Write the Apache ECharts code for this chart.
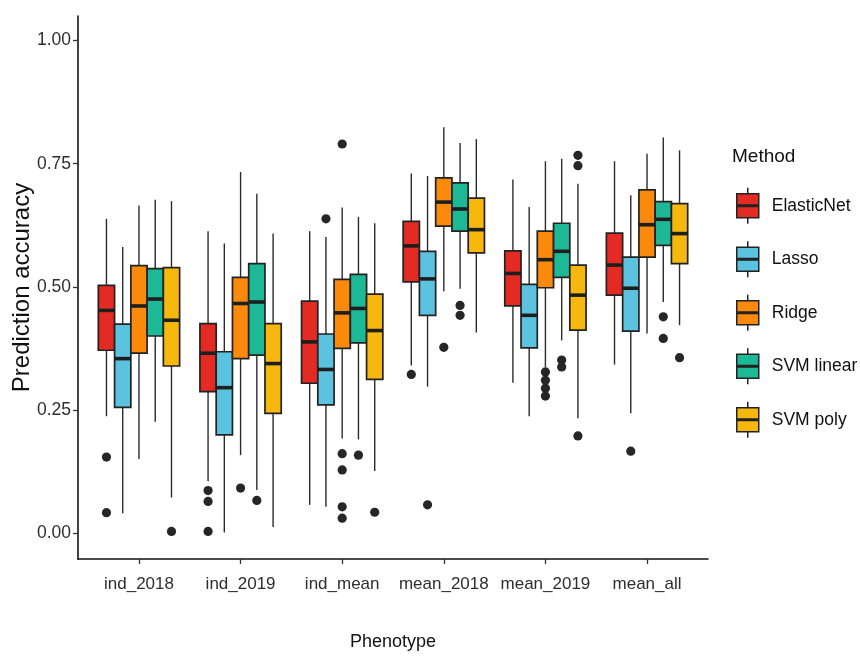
<!DOCTYPE html>
<html>
<head>
<meta charset="utf-8">
<script src="https://cdn.jsdelivr.net/npm/echarts@6/dist/echarts.min.js"></script>
<style>
  html, body { margin: 0; padding: 0; background: #fff; }
  #chart { width: 860px; height: 662px; }
</style>
</head>
<body>
<div id="chart"></div>
<script>
var phenotypes = ['ind_2018', 'ind_2019', 'ind_mean', 'mean_2018', 'mean_2019', 'mean_all'];
var methods = ['ElasticNet', 'Lasso', 'Ridge', 'SVM linear', 'SVM poly'];
var yTicks = [0, 0.25, 0.5, 0.75, 1];

// [min, q1, median, q3, max] per phenotype
var elasticNet = [
    [0.237, 0.371, 0.452, 0.503, 0.638],
    [0.105, 0.287, 0.365, 0.425, 0.613],
    [0.057, 0.304, 0.388, 0.471, 0.613],
    [0.340, 0.510, 0.583, 0.633, 0.730],
    [0.305, 0.461, 0.527, 0.573, 0.718],
    [0.342, 0.483, 0.544, 0.609, 0.755]
];
var lasso = [
    [0.040, 0.255, 0.354, 0.424, 0.581],
    [0.001, 0.199, 0.295, 0.368, 0.588],
    [0.053, 0.260, 0.332, 0.404, 0.601],
    [0.297, 0.442, 0.516, 0.572, 0.725],
    [0.237, 0.376, 0.442, 0.505, 0.662],
    [0.243, 0.410, 0.497, 0.560, 0.686]
];
var ridge = [
    [0.150, 0.365, 0.461, 0.543, 0.665],
    [0.158, 0.354, 0.466, 0.519, 0.733],
    [0.192, 0.375, 0.447, 0.515, 0.661],
    [0.491, 0.623, 0.672, 0.721, 0.824],
    [0.337, 0.498, 0.555, 0.613, 0.755],
    [0.405, 0.560, 0.626, 0.697, 0.770]
];
var svmLinear = [
    [0.226, 0.400, 0.475, 0.537, 0.677],
    [0.087, 0.361, 0.469, 0.547, 0.689],
    [0.190, 0.386, 0.456, 0.525, 0.642],
    [0.496, 0.613, 0.658, 0.711, 0.792],
    [0.391, 0.519, 0.572, 0.629, 0.760],
    [0.469, 0.584, 0.637, 0.673, 0.803]
];
var svmPoly = [
    [0.072, 0.339, 0.432, 0.539, 0.674],
    [0.012, 0.243, 0.344, 0.425, 0.608],
    [0.126, 0.312, 0.411, 0.485, 0.629],
    [0.407, 0.569, 0.616, 0.680, 0.800],
    [0.233, 0.412, 0.483, 0.544, 0.709],
    [0.422, 0.547, 0.608, 0.669, 0.777]
];

// outliers: [phenotype index, value]
var elasticNetOut = [[0, 0.154], [0, 0.041], [1, 0.086], [1, 0.064], [1, 0.003], [3, 0.322]];
var lassoOut = [[2, 0.638], [3, 0.057], [5, 0.166]];
var ridgeOut = [[1, 0.091], [2, 0.790], [2, 0.161], [2, 0.128], [2, 0.053], [2, 0.030],
    [3, 0.377], [4, 0.327], [4, 0.310], [4, 0.294], [4, 0.278]];
var svmLinearOut = [[1, 0.066], [2, 0.158], [3, 0.462], [3, 0.442], [4, 0.351], [4, 0.337], [5, 0.439], [5, 0.395]];
var svmPolyOut = [[0, 0.003], [2, 0.042], [4, 0.767], [4, 0.746], [4, 0.197], [5, 0.356]];

var boxData = [elasticNet, lasso, ridge, svmLinear, svmPoly];
var outData = [elasticNetOut, lassoOut, ridgeOut, svmLinearOut, svmPolyOut];
var colors = ['#E32B24', '#5BC2E0', '#FA890C', '#1DB896', '#F7B80E'];

var FONT = "'Liberation Sans', Arial, sans-serif";
var STEP = 0.16;   // dodge width per method (category units)
var BOX_W = 0.16;

function boxRenderer(k) {
    var off = (k - 2) * STEP;
    return function (params, api) {
        var x = api.value(0) + off;
        var lo = api.coord([x, api.value(1)]);
        var q1 = api.coord([x, api.value(2)]);
        var md = api.coord([x, api.value(3)]);
        var q3 = api.coord([x, api.value(4)]);
        var hi = api.coord([x, api.value(5)]);
        var half = api.size([BOX_W, 0])[0] / 2;
        return {
            type: 'group',
            children: [
                {type: 'line', shape: {x1: lo[0], y1: lo[1], x2: q1[0], y2: q1[1]}, style: {stroke: '#2b2b2b', lineWidth: 1.4}},
                {type: 'line', shape: {x1: q3[0], y1: q3[1], x2: hi[0], y2: hi[1]}, style: {stroke: '#2b2b2b', lineWidth: 1.4}},
                {type: 'rect', shape: {x: q3[0] - half, y: q3[1], width: half * 2, height: q1[1] - q3[1]},
                    style: {fill: colors[k], stroke: '#222', lineWidth: 1.7}},
                {type: 'line', shape: {x1: md[0] - half, y1: md[1], x2: md[0] + half, y2: md[1]}, style: {stroke: '#1e1e1e', lineWidth: 3.6}}
            ]
        };
    };
}

function outRenderer(k) {
    var off = (k - 2) * STEP;
    return function (params, api) {
        var p = api.coord([api.value(0) + off, api.value(1)]);
        return {type: 'circle', shape: {cx: p[0], cy: p[1], r: 4.6}, style: {fill: '#262626'}};
    };
}

var series = [];
methods.forEach(function (m, k) {
    series.push({
        name: m,
        type: 'custom',
        itemStyle: {color: colors[k]},
        renderItem: boxRenderer(k),
        encode: {x: 0, y: [1, 2, 3, 4, 5]},
        data: boxData[k].map(function (b, i) { return [i].concat(b); }),
        z: 2
    });
});
methods.forEach(function (m, k) {
    series.push({
        name: m,
        type: 'custom',
        itemStyle: {color: colors[k]},
        renderItem: outRenderer(k),
        encode: {x: 0, y: 1},
        data: outData[k],
        z: 3
    });
});

var legendIcon = 'path://M11,0L11,6M0,6H22V17.25H0ZM0,18.75H22V30H0ZM11,30L11,36';

var myChart = echarts.init(document.getElementById('chart'));
var option = {
    animation: false,
    backgroundColor: '#fff',
    title: {
        text: 'Method',
        left: 727,
        top: 142,
        textStyle: {fontFamily: FONT, fontSize: 19, fontWeight: 'normal', color: '#111'}
    },
    legend: {
        orient: 'vertical',
        left: 736,
        top: 187,
        padding: 0,
        itemWidth: 22,
        itemHeight: 36,
        itemGap: 16,
        icon: legendIcon,
        selectedMode: false,
        textStyle: {fontFamily: FONT, fontSize: 17.5, color: '#111', padding: [0, 0, 0, 8]},
        data: methods.map(function (m, k) {
            return {name: m, itemStyle: {color: colors[k], borderColor: '#222', borderWidth: 1.5}};
        })
    },
    grid: {left: 78, right: 152, top: 16, bottom: 103, outerBoundsMode: 'none', containLabel: false},
    xAxis: {
        type: 'value',
        min: -0.6,
        max: 5.6,
        name: 'Phenotype',
        nameLocation: 'middle',
        nameGap: 74,
        nameTextStyle: {fontFamily: FONT, fontSize: 18, color: '#111'},
        splitLine: {show: false},
        axisLine: {show: true, onZero: false, lineStyle: {color: '#111', width: 1.6}},
        axisTick: {show: true, length: 5, customValues: [0, 1, 2, 3, 4, 5], lineStyle: {color: '#333', width: 1.3}},
        axisLabel: {
            customValues: [0, 1, 2, 3, 4, 5],
            margin: 17,
            fontFamily: FONT,
            fontSize: 17,
            color: '#2e2e2e',
            formatter: function (v) { return phenotypes[Math.round(v)]; }
        }
    },
    yAxis: {
        type: 'value',
        min: -0.053,
        max: 1.05,
        name: 'Prediction accuracy',
        nameLocation: 'middle',
        nameGap: 44,
        nameMoveOverlap: false,
        nameTextStyle: {fontFamily: FONT, fontSize: 24, color: '#111'},
        splitLine: {show: false},
        axisLine: {show: true, onZero: false, lineStyle: {color: '#111', width: 1.6}},
        axisTick: {show: true, length: 5, customValues: yTicks, lineStyle: {color: '#333', width: 1.3}},
        axisLabel: {
            customValues: yTicks,
            margin: 7,
            fontFamily: FONT,
            fontSize: 17.5,
            color: '#2e2e2e',
            formatter: function (v) { return v.toFixed(2); }
        }
    },
    series: series
};
myChart.setOption(option);
</script>
</body>
</html>
